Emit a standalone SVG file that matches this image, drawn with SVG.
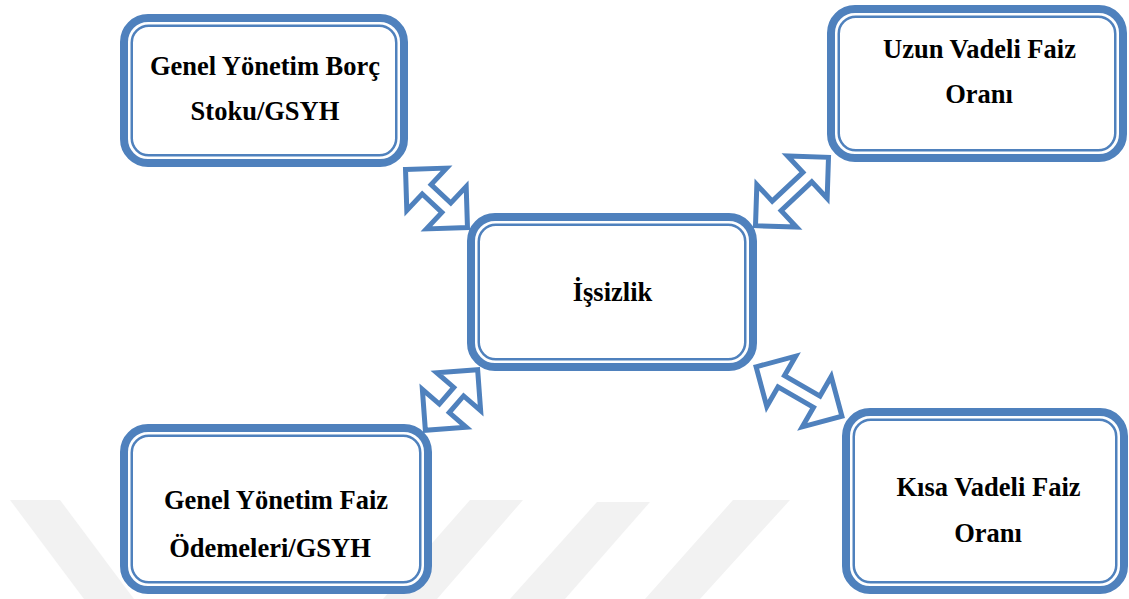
<svg xmlns="http://www.w3.org/2000/svg" width="1129" height="599" viewBox="0 0 1129 599">
  <style>
    .wm { fill: #f2f2f2; }
    .outer { fill: #ffffff; stroke: #4f81bd; stroke-width: 8; }
    .inner { fill: none; stroke: #4f81bd; stroke-width: 2.5; }
    .arrow { fill: #ffffff; stroke: #4f81bd; stroke-width: 5; stroke-linejoin: miter; stroke-miterlimit: 10; }
    .label { font-family: "Liberation Serif", "Times New Roman", serif; font-weight: bold; font-size: 26.5px; fill: #000000; text-anchor: middle; }
  </style>
  <rect x="0" y="0" width="1129" height="599" fill="#ffffff"/>
  <g id="watermark">
    <polygon class="wm" points="10,500 60,500 134,599 84,599"/>
    <polygon class="wm" points="470,500 523,500 437,599 383,599"/>
    <polygon class="wm" points="597,502 650,502 565,599 510,599"/>
    <polygon class="wm" points="733,500 790,500 700,599 645,599"/>
  </g>
  <g id="connectors">
    <polygon class="arrow" transform="translate(436.5,198.5) rotate(43.2)" points="-42.5,0 -13.5,-29 -13.5,-6.5 13.5,-6.5 13.5,-29 42.5,0 13.5,29 13.5,6.5 -13.5,6.5 -13.5,29"/>
    <polygon class="arrow" transform="translate(792,191.5) rotate(-43.1)" points="-50,0 -21,-29 -21,-6.5 21,-6.5 21,-29 50,0 21,29 21,6.5 -21,6.5 -21,29"/>
    <polygon class="arrow" transform="translate(451.5,400) rotate(-49.2)" points="-40,0 -11,-29 -11,-6.5 11,-6.5 11,-29 40,0 11,29 11,6.5 -11,6.5 -11,29"/>
    <polygon class="arrow" transform="translate(799,391.5) rotate(29.9)" points="-49.5,0 -20.5,-29 -20.5,-6.5 20.5,-6.5 20.5,-29 49.5,0 20.5,29 20.5,6.5 -20.5,6.5 -20.5,29"/>
  </g>
  <g id="node-borc">
    <rect class="outer" x="124" y="18" width="280" height="145" rx="24"/>
    <rect class="inner" x="131.75" y="25.75" width="264.5" height="129.5" rx="17"/>
    <text class="label" x="265" y="75">Genel Yönetim Borç</text>
    <text class="label" x="265" y="120">Stoku/GSYH</text>
  </g>
  <g id="node-uzun">
    <rect class="outer" x="831" y="9" width="292" height="149" rx="24"/>
    <rect class="inner" x="838.75" y="16.75" width="276.5" height="133.5" rx="17"/>
    <text class="label" x="979.5" y="58">Uzun Vadeli Faiz</text>
    <text class="label" x="979" y="103">Oranı</text>
  </g>
  <g id="node-issizlik">
    <rect class="outer" x="471" y="217" width="282" height="150" rx="24"/>
    <rect class="inner" x="478.75" y="224.75" width="266.5" height="134.5" rx="17"/>
    <text class="label" x="612.5" y="301">İşsizlik</text>
  </g>
  <g id="node-faiz-odemeleri">
    <rect class="outer" x="124" y="428" width="304" height="162" rx="24"/>
    <rect class="inner" x="131.75" y="435.75" width="288.5" height="146.5" rx="17"/>
    <text class="label" x="276" y="509">Genel Yönetim Faiz</text>
    <text class="label" x="270" y="557">Ödemeleri/GSYH</text>
  </g>
  <g id="node-kisa">
    <rect class="outer" x="846" y="412" width="278" height="178" rx="24"/>
    <rect class="inner" x="853.75" y="419.75" width="262.5" height="162.5" rx="17"/>
    <text class="label" x="988.5" y="496">Kısa Vadeli Faiz</text>
    <text class="label" x="988" y="542">Oranı</text>
  </g>
</svg>
